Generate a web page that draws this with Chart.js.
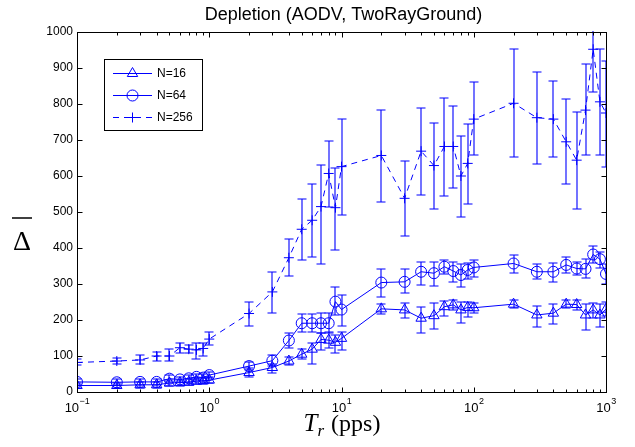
<!DOCTYPE html>
<html>
<head>
<meta charset="utf-8">
<script src="https://cdn.jsdelivr.net/npm/chart.js@4.4.0/dist/chart.umd.min.js"></script>
<style>
  html, body { margin: 0; padding: 0; background: #fff; }
  #wrap { width: 635px; height: 447px; }
</style>
</head>
<body>
<div id="wrap"><canvas id="chart" width="635" height="447"></canvas></div>
<script>
// values
const x_vals = [0.1, 0.2, 0.3, 0.4, 0.5, 0.6, 0.7, 0.8, 0.9, 1,
    2, 3, 4, 5, 6, 7, 8, 9, 10,
    20, 30, 40, 50, 60, 70, 80, 90, 100,
    200, 300, 400, 500, 600, 700, 800, 900, 1000];

const n16_mean = [18, 18, 20, 20, 25, 26, 27, 30, 31, 33,
    54, 68, 86, 105, 119, 146, 144, 138, 149,
    231, 228, 205, 212, 237, 242, 228, 235, 234,
    244, 214, 219, 244, 243, 214, 228, 214, 230];
const n16_lo = [10, 10, 12, 12, 17, 18, 19, 22, 22, 24,
    41, 54, 74, 91, 78, 117, 122, 107, 117,
    217, 205, 165, 174, 211, 228, 193, 209, 220,
    232, 181, 189, 232, 228, 172, 205, 180, 210];
const n16_hi = [26, 26, 28, 28, 33, 34, 35, 38, 40, 42,
    66, 78, 98, 119, 137, 165, 166, 158, 168,
    244, 248, 235, 246, 254, 256, 251, 251, 248,
    256, 239, 244, 256, 256, 244, 248, 244, 250];

const n64_mean = [28, 27, 28, 28, 37, 35, 38, 42, 40, 47,
    72, 87, 143, 191, 191, 191, 191, 251, 229,
    304, 306, 334, 330, 348, 336, 325, 339, 346,
    357, 334, 334, 353, 343, 342, 382, 369, 328];
const n64_lo = [20, 19, 20, 20, 28, 27, 29, 33, 31, 38,
    62, 72, 123, 166, 166, 164, 164, 214, 183,
    265, 274, 297, 294, 327, 305, 291, 315, 320,
    331, 314, 306, 330, 325, 316, 357, 344, 300];
const n64_hi = [36, 35, 36, 36, 46, 43, 47, 51, 49, 56,
    82, 103, 165, 218, 218, 219, 219, 291, 270,
    341, 341, 360, 360, 367, 362, 355, 359, 367,
    380, 355, 357, 376, 362, 369, 406, 390, 356];

const n256_mean = [82, 86, 89, 100, 100, 123, 119, 117, 121, 147,
    218, 278, 373, 452, 477, 515, 607, 512, 626,
    657, 538, 669, 629, 682, 682, 600, 635, 758,
    802, 762, 758, 695, 644, 783, 952, 806, 775];
const n256_lo = [75, 78, 78, 87, 87, 109, 109, 92, 100, 131,
    183, 220, 322, 368, 376, 356, 515, 395, 493,
    528, 432, 547, 508, 544, 568, 485, 523, 659,
    654, 633, 654, 577, 507, 658, 834, 658, 626];
const n256_hi = [91, 94, 103, 112, 119, 137, 131, 136, 135, 168,
    251, 334, 425, 536, 577, 631, 697, 623, 758,
    783, 643, 790, 748, 817, 795, 711, 745, 860,
    952, 890, 863, 813, 777, 910, 1080, 952, 920];

const series_labels = ["N=16", "N=64", "N=256"];
const y_ticks = [0, 100, 200, 300, 400, 500, 600, 700, 800, 900, 1000];
const x_decades = [-1, 0, 1, 2, 3];
const chart_title = "Depletion (AODV, TwoRayGround)";

const BLUE = "rgb(0,0,255)";
const SANS = "'Liberation Sans', Arial, Helvetica, sans-serif";
const SERIF = "'Liberation Serif', 'Times New Roman', serif";

function pts(ys) {
    return x_vals.map((x, i) => ({x: x, y: ys[i]}));
}

const error_sets = [
    [n16_lo, n16_hi],
    [n64_lo, n64_hi],
    [n256_lo, n256_hi],
];

// error bars, drawn off the pixel grid so they come out soft blue like the original
const errorbar_plugin = {
    id: "errorbars",
    afterDatasetsDraw(chart) {
        const ctx = chart.ctx;
        const xs = chart.scales.x;
        const ys = chart.scales.y;
        const area = chart.chartArea;
        ctx.save();
        ctx.setLineDash([]);
        ctx.beginPath();
        ctx.rect(area.left, area.top - 1, area.right - area.left, area.bottom - area.top + 2);
        ctx.clip();
        ctx.strokeStyle = BLUE;
        ctx.lineWidth = 1.1;
        error_sets.forEach(([lo, hi]) => {
            x_vals.forEach((x, i) => {
                const px = Math.round(xs.getPixelForValue(x));
                const p_lo = Math.round(ys.getPixelForValue(lo[i]));
                const p_hi = Math.round(ys.getPixelForValue(hi[i]));
                ctx.beginPath();
                ctx.moveTo(px, p_lo);
                ctx.lineTo(px, p_hi);
                ctx.moveTo(px - 4.5, p_lo);
                ctx.lineTo(px + 4.5, p_lo);
                ctx.moveTo(px - 4.5, p_hi);
                ctx.lineTo(px + 4.5, p_hi);
                ctx.stroke();
            });
        });
        ctx.restore();
    }
};

const frame_plugin = {
    id: "frame",
    afterDraw(chart) {
        const ctx = chart.ctx;
        const xs = chart.scales.x;
        const ys = chart.scales.y;
        const a = chart.chartArea;
        const L = Math.round(a.left) + 0.5, R = Math.round(a.right) + 0.5;
        const T = Math.round(a.top) + 0.5, B = Math.round(a.bottom) + 0.5;

        ctx.save();
        ctx.setLineDash([]);
        ctx.strokeStyle = "#000";
        ctx.lineWidth = 1;
        ctx.strokeRect(L, T, R - L, B - T);

        // x ticks (log, with minor ticks), inward on bottom and top
        ctx.beginPath();
        for (const d of x_decades) {
            for (let k = 1; k <= 9; k++) {
                if (d === 3 && k > 1) break;
                const v = k * Math.pow(10, d);
                const px = Math.round(xs.getPixelForValue(v)) + 0.5;
                const len = (k === 1) ? 5 : 3;
                ctx.moveTo(px, B);
                ctx.lineTo(px, B - len);
                ctx.moveTo(px, T);
                ctx.lineTo(px, T + len);
            }
        }
        // y ticks inward on left and right
        for (const v of y_ticks) {
            const py = Math.round(ys.getPixelForValue(v)) + 0.5;
            ctx.moveTo(L, py);
            ctx.lineTo(L + 5, py);
            ctx.moveTo(R, py);
            ctx.lineTo(R - 5, py);
        }
        ctx.stroke();

        // y tick labels
        ctx.fillStyle = "#000";
        ctx.font = `12px ${SANS}`;
        ctx.textAlign = "right";
        ctx.textBaseline = "middle";
        for (const v of y_ticks) {
            ctx.fillText(String(v), a.left - 4, ys.getPixelForValue(v));
        }

        // x tick labels 10^d
        ctx.textBaseline = "alphabetic";
        ctx.textAlign = "left";
        for (const d of x_decades) {
            const px = xs.getPixelForValue(Math.pow(10, d));
            const exp = (d < 0) ? "\u2212" + Math.abs(d) : String(d);
            ctx.font = `13px ${SANS}`;
            const w_base = ctx.measureText("10").width;
            ctx.font = `9px ${SANS}`;
            const w_exp = ctx.measureText(exp).width;
            const x0 = px - (w_base + w_exp) / 2;
            ctx.font = `13px ${SANS}`;
            ctx.fillText("10", x0, a.bottom + 20);
            ctx.font = `9px ${SANS}`;
            ctx.fillText(exp, x0 + w_base + 0.5, a.bottom + 12);
        }

        // title
        ctx.font = `18px ${SANS}`;
        ctx.textAlign = "center";
        ctx.textBaseline = "alphabetic";
        ctx.fillText(chart_title, (a.left + a.right) / 2 + 2, 20);

        // x axis label: T_r (pps)
        const cx = (a.left + a.right) / 2;
        ctx.textAlign = "left";
        ctx.font = `italic 25px ${SERIF}`;
        const wT = ctx.measureText("T").width;
        ctx.font = `italic 17px ${SERIF}`;
        const wr = ctx.measureText("r").width;
        ctx.font = `24px ${SERIF}`;
        const wp = ctx.measureText(" (pps)").width;
        let lx = cx - (wT + wr + wp) / 2;
        ctx.font = `italic 25px ${SERIF}`;
        ctx.fillText("T", lx, 431);
        lx += wT;
        ctx.font = `italic 17px ${SERIF}`;
        ctx.fillText("r", lx, 436);
        lx += wr + 1;
        ctx.font = `24px ${SERIF}`;
        ctx.fillText(" (pps)", lx, 431);

        // y axis label: overlined Delta
        ctx.font = `28px ${SERIF}`;
        ctx.textAlign = "center";
        ctx.fillText("\u0394", 22, 250);
        ctx.beginPath();
        ctx.lineWidth = 1.5;
        ctx.moveTo(12, 218);
        ctx.lineTo(32, 218);
        ctx.stroke();

        // legend
        const bx = 104.5, by = 59.5, bw = 98, bh = 71;
        ctx.lineWidth = 1;
        ctx.fillStyle = "#fff";
        ctx.fillRect(bx, by, bw, bh);
        ctx.strokeStyle = "#000";
        ctx.strokeRect(bx, by, bw, bh);
        const rows = [73, 95, 117];
        chart.data.datasets.forEach((ds, i) => {
            const ry = rows[i] + 0.5;
            ctx.strokeStyle = BLUE;
            ctx.lineWidth = 1;
            ctx.setLineDash(ds.borderDash || []);
            ctx.beginPath();
            ctx.moveTo(113, ry);
            ctx.lineTo(152, ry);
            ctx.stroke();
            ctx.setLineDash([]);
            ctx.fillStyle = "rgba(0,0,0,0)";
            ctx.strokeStyle = BLUE;
            Chart.helpers.drawPoint(ctx, {
                pointStyle: ds.pointStyle,
                radius: ds.pointRadius,
                borderWidth: 1,
                rotation: 0,
            }, 132.5, ry);
            ctx.fillStyle = "#000";
            ctx.font = `12px ${SANS}`;
            ctx.textAlign = "left";
            ctx.textBaseline = "middle";
            ctx.fillText(ds.label, 157, ry);
        });
        ctx.restore();
    }
};

const chart_canvas = document.getElementById("chart");

const chart = new Chart(chart_canvas, {
    type: "line",
    data: {
        datasets: [
            {
                label: series_labels[0],
                data: pts(n16_mean),
                pointStyle: "triangle",
                pointRadius: 6,
            },
            {
                label: series_labels[1],
                data: pts(n64_mean),
                pointStyle: "circle",
                pointRadius: 5.5,
            },
            {
                label: series_labels[2],
                data: pts(n256_mean),
                pointStyle: "cross",
                pointRadius: 5,
                borderDash: [6, 5],
            },
        ].map(ds => Object.assign({
            borderColor: BLUE,
            borderWidth: 1,
            pointBorderColor: BLUE,
            pointBackgroundColor: "rgba(0,0,0,0)",
            pointBorderWidth: 1,
            tension: 0,
            fill: false,
        }, ds)),
    },
    options: {
        responsive: false,
        animation: false,
        devicePixelRatio: 1,
        layout: {
            padding: {left: 77, right: 29, top: 32, bottom: 55},
        },
        plugins: {
            legend: {display: false},
            tooltip: {enabled: false},
            title: {display: false},
        },
        scales: {
            x: {
                type: "logarithmic",
                min: 0.1,
                max: 1000,
                display: false,
            },
            y: {
                type: "linear",
                min: 0,
                max: 1000,
                display: false,
            },
        },
    },
    plugins: [errorbar_plugin, frame_plugin],
});
</script>
</body>
</html>
